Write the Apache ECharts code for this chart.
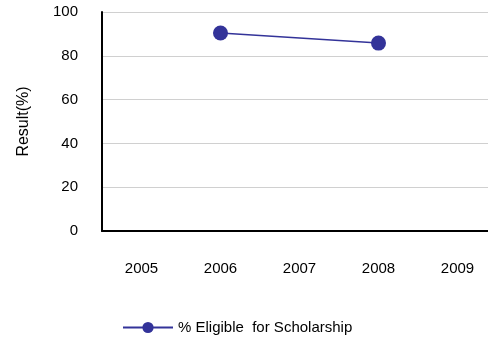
<!DOCTYPE html>
<html>
<head>
<meta charset="utf-8">
<script src="https://cdn.jsdelivr.net/npm/echarts@6/dist/echarts.min.js"></script>
<style>
  html, body { margin: 0; padding: 0; background: #fff; }
  #chart { width: 488px; height: 339px; }
</style>
</head>
<body>
<div id="chart"></div>
<script>
  // data
  var years = ['2005', '2006', '2007', '2008', '2009'];
  var eligible = [null, 90.4, null, 85.8, null];
  var seriesName = '% Eligible  for Scholarship';

  var chart = echarts.init(document.getElementById('chart'));
  var font = 'Liberation Sans, Arial, sans-serif';

  var option = {
    animation: false,
    grid: {
      left: 102,
      top: 12,
      width: 395,
      height: 219,
      outerBoundsMode: 'none'
    },
    legend: {
      data: [seriesName],
      left: 117,
      top: 315,
      itemWidth: 50,
      itemHeight: 14,
      itemGap: 10,
      textStyle: { color: '#000', fontSize: 15, fontFamily: font }
    },
    xAxis: {
      type: 'category',
      data: years,
      boundaryGap: true,
      axisLine: { lineStyle: { color: '#000', width: 2 } },
      axisTick: { show: false },
      axisLabel: { color: '#000', fontSize: 15, fontFamily: font, margin: 30 }
    },
    yAxis: {
      type: 'value',
      min: 0,
      max: 100,
      interval: 20,
      name: 'Result(%)',
      nameLocation: 'middle',
      nameGap: 70,
      nameTextStyle: { color: '#000', fontSize: 16, fontFamily: font },
      axisLine: { show: true, lineStyle: { color: '#000', width: 2 } },
      axisTick: { show: false },
      axisLabel: { color: '#000', fontSize: 15, fontFamily: font, margin: 24 },
      splitLine: { lineStyle: { color: '#d0d0d0', width: 1 } }
    },
    series: [
      {
        name: seriesName,
        type: 'line',
        data: eligible,
        connectNulls: true,
        symbol: 'circle',
        symbolSize: 15,
        lineStyle: { color: '#333399', width: 1.5 },
        itemStyle: { color: '#333399' }
      }
    ]
  };
  chart.setOption(option);
</script>
</body>
</html>
